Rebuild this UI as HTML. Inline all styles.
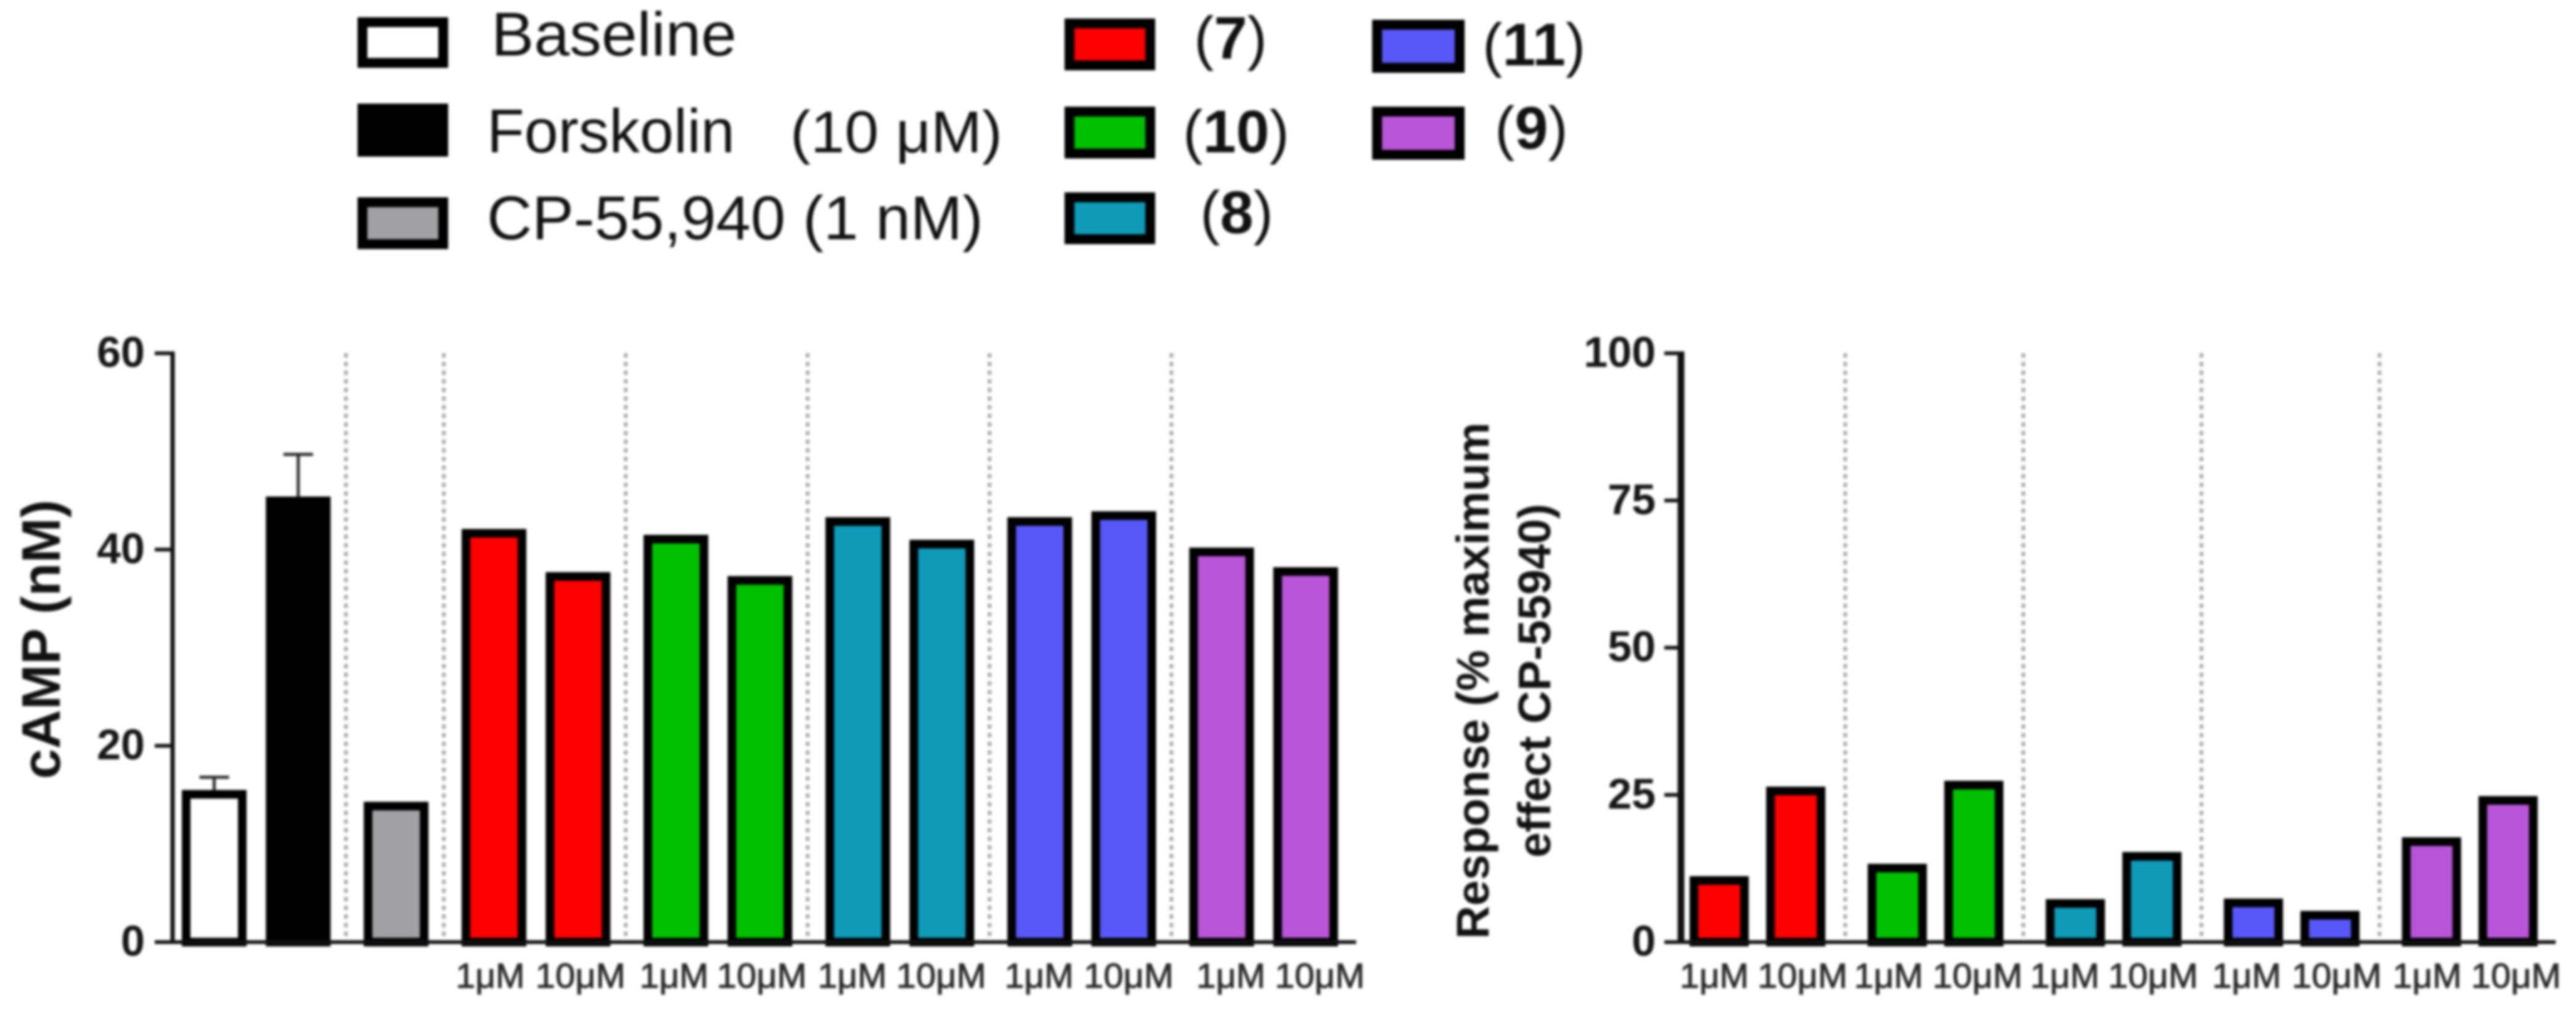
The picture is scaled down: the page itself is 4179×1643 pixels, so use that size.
<!DOCTYPE html>
<html lang="en">
<head>
<meta charset="utf-8">
<title>cAMP and response bar charts</title>
<style>
html,body{margin:0;padding:0;background:#fff;width:4179px;height:1643px;overflow:hidden}
svg{display:block;filter:blur(2px);font-family:"Liberation Sans",sans-serif}
</style>
</head>
<body>
<svg id="figure" xmlns="http://www.w3.org/2000/svg" width="4179" height="1643" viewBox="0 0 4179 1643">
  <rect x="0" y="0" width="4179" height="1643" fill="#fff"/>
  <g id="legend" fill="#111">
    <rect x="588" y="36" width="131" height="66" fill="#fff" stroke="#000" stroke-width="16"/>
    <text x="797" y="90" font-size="100" textLength="398" lengthAdjust="spacingAndGlyphs">Baseline</text>
    <rect x="588" y="176" width="131" height="70" fill="#000" stroke="#000" stroke-width="16"/>
    <text x="790" y="247" font-size="100" textLength="402" lengthAdjust="spacingAndGlyphs">Forskolin</text>
    <text x="1282" y="247" font-size="96" textLength="344" lengthAdjust="spacingAndGlyphs">(10 μM)</text>
    <rect x="588" y="328" width="131" height="68" fill="#a0a0a5" stroke="#000" stroke-width="16"/>
    <text x="790" y="388" font-size="100" textLength="805" lengthAdjust="spacingAndGlyphs">CP-55,940 (1 nM)</text>

    <rect x="1735" y="38" width="131" height="68" fill="#ff0000" stroke="#000" stroke-width="16"/>
    <text x="1937" y="95" font-size="97">(<tspan font-weight="bold">7</tspan>)</text>
    <rect x="1735" y="181" width="131" height="68" fill="#00c000" stroke="#000" stroke-width="16"/>
    <text x="1919" y="247" font-size="97">(<tspan font-weight="bold">10</tspan>)</text>
    <rect x="1735" y="320" width="131" height="68" fill="#0f9ab8" stroke="#000" stroke-width="16"/>
    <text x="1947" y="378" font-size="97">(<tspan font-weight="bold">8</tspan>)</text>

    <rect x="2234" y="40" width="134" height="70" fill="#5858f8" stroke="#000" stroke-width="16"/>
    <text x="2405" y="106" font-size="97">(<tspan font-weight="bold">11</tspan>)</text>
    <rect x="2234" y="181" width="134" height="70" fill="#b855d8" stroke="#000" stroke-width="16"/>
    <text x="2425" y="241" font-size="97">(<tspan font-weight="bold">9</tspan>)</text>
  </g>

  <text transform="translate(97 1037) rotate(-90)" text-anchor="middle" font-size="88" font-weight="bold" fill="#111">cAMP (nM)</text>
  <text transform="translate(2415 1104) rotate(-90)" text-anchor="middle" font-size="74" font-weight="bold" fill="#111" textLength="838" lengthAdjust="spacingAndGlyphs">Response (% maximum</text>
  <text transform="translate(2515 1104) rotate(-90)" text-anchor="middle" font-size="74" font-weight="bold" fill="#111" textLength="574" lengthAdjust="spacingAndGlyphs">effect CP-55940)</text>
</svg>

<script>
// ---- chart data ----
const leftCategories = ['Baseline', 'Forskolin', 'CP-55,940', '7-1uM', '7-10uM', '10-1uM', '10-10uM', '8-1uM', '8-10uM', '11-1uM', '11-10uM', '9-1uM', '9-10uM'];
const leftSeries = ['control', 'control', 'cp', '7', '7', '10', '10', '8', '8', '11', '11', '9', '9'];
const leftValues = [15.5, 45.4, 14.3, 42.1, 37.7, 41.5, 37.3, 43.3, 41.0, 43.3, 43.9, 40.2, 38.2];
const leftErrors = [1.3, 4.3, 0, 0, 0, 0, 0, 0, 0, 0, 0, 0, 0];
const leftDoseLabels = ['', '', '', '1μM', '10μM', '1μM', '10μM', '1μM', '10μM', '1μM', '10μM', '1μM', '10μM'];
const leftTicks = [0, 20, 40, 60];

const rightCategories = ['7-1uM', '7-10uM', '10-1uM', '10-10uM', '8-1uM', '8-10uM', '11-1uM', '11-10uM', '9-1uM', '9-10uM'];
const rightSeries = ['7', '7', '10', '10', '8', '8', '11', '11', '9', '9'];
const rightValues = [11.2, 26.4, 13.3, 27.4, 7.3, 15.3, 7.4, 5.3, 17.8, 24.8];
const rightDoseLabels = ['1μM', '10μM', '1μM', '10μM', '1μM', '10μM', '1μM', '10μM', '1μM', '10μM'];
const rightTicks = [0, 25, 50, 75, 100];

// ---- presentation ----
const fillBySeries = {control: null, cp: '#a0a0a5', '7': '#ff0000', '10': '#00c000', '8': '#0f9ab8', '11': '#5858f8', '9': '#b855d8'};
const leftLabelNudge = [0, 0, 0, -6, 4, -3, 3, -9, -1, -1, 8, 15, 23];
const rightLabelNudge = [-8, 11, -14, 6, -17, 2, -11, 11, -7, 13];

const SVGNS = 'http://www.w3.org/2000/svg';
const figure = document.getElementById('figure');

function node(tag, attrs, parent) {
  const el = document.createElementNS(SVGNS, tag);
  for (const k in attrs) el.setAttribute(k, attrs[k]);
  parent.appendChild(el);
  return el;
}

function drawPanel(cfg) {
  const panel = node('g', {}, figure);
  
  

  const yScale = v => cfg.y0 - (v / cfg.yMax) * (cfg.y0 - cfg.yTop);
  let group = 0;
  const xAt = [];
  cfg.series.forEach((s, i) => {
    if (i > 0 && s !== cfg.series[i - 1]) group++;
    xAt.push(cfg.x0 + cfg.pitch * i + cfg.groupGap * group);
  });

  // group separators
  cfg.series.forEach((s, i) => {
    if (i === 0 || s === cfg.series[i - 1]) return;
    const sx = (xAt[i - 1] + cfg.barW + xAt[i]) / 2 - 2;
    const sep = node('line', {x1: sx, x2: sx, y1: cfg.yTop, y2: cfg.y0, stroke: '#a8a8a8', 'stroke-width': 6, 'stroke-dasharray': '7 7'}, panel);
    
    
  });

  // error bars
  cfg.values.forEach((v, i) => {
    const err = cfg.errors ? cfg.errors[i] : 0;
    if (!err) return;
    const cx = xAt[i] + cfg.barW / 2;
    const top = yScale(v + err);
    const errG = node('g', {stroke: '#2a2a2a', 'stroke-width': 5, fill: 'none'}, panel);
    
    
    node('line', {x1: cx, x2: cx, y1: yScale(v), y2: top}, errG);
    node('line', {x1: cx - 24, x2: cx + 24, y1: top, y2: top}, errG);
  });

  // bars
  cfg.values.forEach((v, i) => {
    const s = cfg.series[i];
    let fill = fillBySeries[s];
    if (s === 'control') fill = i === 0 ? '#ffffff' : '#000000';
    const top = yScale(v);
    const sw = 14;
    const bar = node('rect', {
      x: xAt[i] + sw / 2, y: top + sw / 2,
      width: cfg.barW - sw, height: Math.max(0, cfg.y0 - top - sw / 2),
      fill: fill, stroke: '#000', 'stroke-width': sw
    }, panel);
    
    
  });

  // axes
  const yAxis = node('line', {x1: cfg.axisX, x2: cfg.axisX, y1: cfg.yTop - 3, y2: cfg.y0 + 3, stroke: '#111', 'stroke-width': cfg.axisW}, panel);
  
  
  const xAxis = node('line', {x1: cfg.tickX, x2: cfg.axisEnd, y1: cfg.y0, y2: cfg.y0, stroke: '#111', 'stroke-width': 6}, panel);
  
  

  cfg.ticks.forEach(t => {
    const ty = yScale(t);
    const tick = node('line', {x1: cfg.tickX, x2: cfg.axisX, y1: ty, y2: ty, stroke: '#111', 'stroke-width': 6}, panel);
    
    
    const label = node('text', {x: cfg.tickLabelX, y: ty + 22, 'text-anchor': 'end', 'font-size': 70, 'font-weight': 'bold', fill: '#161616'}, panel);
    
    
    label.textContent = String(t);
  });

  // dose labels
  cfg.doseLabels.forEach((d, i) => {
    if (!d) return;
    const cx = xAt[i] + cfg.barW / 2 + cfg.labelNudge[i];
    const label = node('text', {
      x: cx, y: 1602, 'text-anchor': 'middle', 'font-size': 57, fill: '#2a2a2a', stroke: '#2a2a2a', 'stroke-width': 1,
      textLength: d === '1μM' ? 112 : 146, lengthAdjust: 'spacingAndGlyphs'
    }, panel);
    
    
    label.textContent = d;
  });
}

drawPanel({
  name: 'camp-chart',
  categories: leftCategories, series: leftSeries, values: leftValues, errors: leftErrors,
  doseLabels: leftDoseLabels, ticks: leftTicks, labelNudge: leftLabelNudge,
  yMax: 60, yTop: 573, y0: 1528,
  x0: 295, pitch: 136.3, groupGap: 22.5, barW: 105,
  axisX: 280, axisW: 7, tickX: 251, axisEnd: 2200, tickLabelX: 235
});

drawPanel({
  name: 'response-chart',
  categories: rightCategories, series: rightSeries, values: rightValues, errors: null,
  doseLabels: rightDoseLabels, ticks: rightTicks, labelNudge: rightLabelNudge,
  yMax: 100, yTop: 573, y0: 1528,
  x0: 2741, pitch: 124.2, groupGap: 40.5, barW: 96,
  axisX: 2727, axisW: 11, tickX: 2700, axisEnd: 4146, tickLabelX: 2686
});
</script>
</body>
</html>
